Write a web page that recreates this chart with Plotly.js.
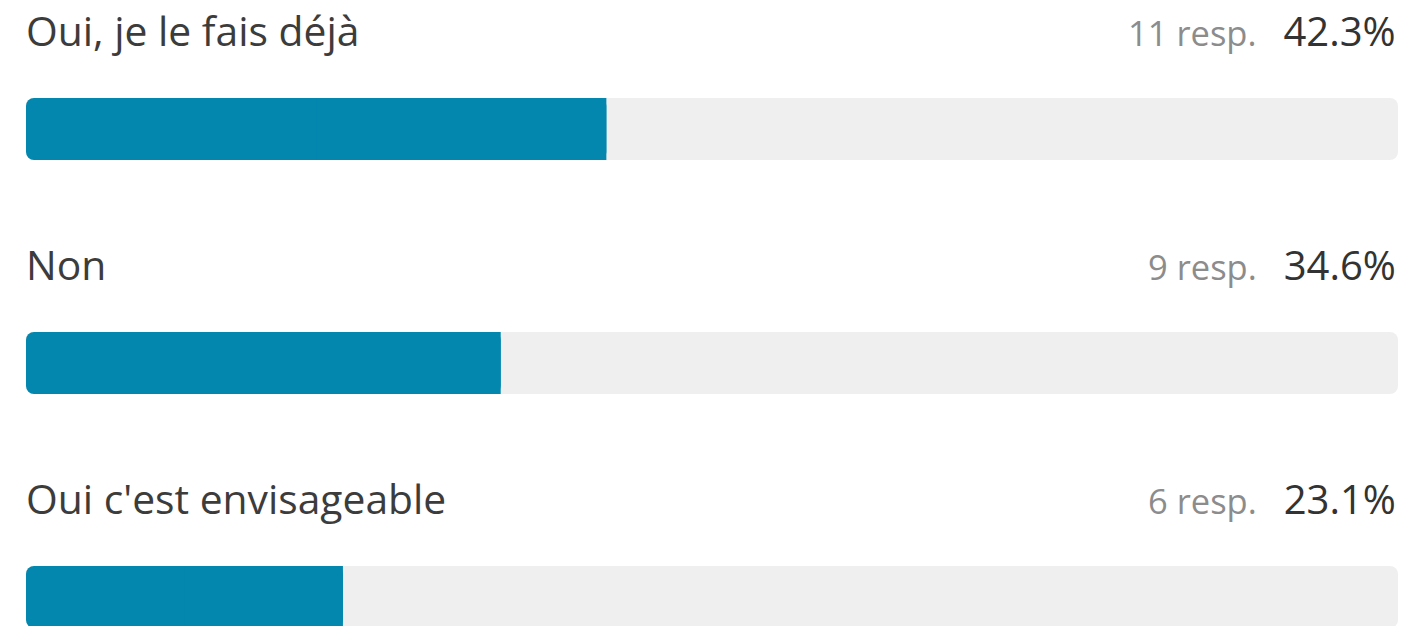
<!DOCTYPE html>
<html>
<head>
<meta charset="utf-8">
<script src="https://cdn.plot.ly/plotly-3.0.1.min.js"></script>
<style>
html,body{margin:0;padding:0;background:#fff;}
#chart{width:1404px;height:626px;}
</style>
</head>
<body>
<div id="chart"></div>
<script>
// Data
const categories = ["Oui, je le fais déjà", "Non", "Oui c'est envisageable"];
const responses = [11, 9, 6];
const percents = [42.3, 34.6, 23.1];
const scaleMax = 100;

const FILL = "#0387AF";
const TRACK = "#EFEFEF";
const FONT = "Open Sans, Noto Sans, sans-serif";

const ypos = categories.map((c, i) => i);
const PX = 234;               // pixels per category step
const barW = 62 / PX;

// full track, drawn from the max back to 0 (rounded at both ends)
const track = {
  type: "bar", orientation: "h",
  y: ypos, base: categories.map(() => scaleMax), x: categories.map(() => -scaleMax),
  width: barW,
  marker: {color: TRACK, cornerradius: 8, line: {width: 0}},
  hoverinfo: "skip"
};
// filled part drawn from its value back to 0
const fill = {
  type: "bar", orientation: "h",
  y: ypos, base: percents, x: percents.map(p => -p),
  width: barW,
  marker: {color: FILL, cornerradius: 8, line: {width: 0}},
  hoverinfo: "skip"
};
// square off the right end of the filled part
const fillSquare = {
  type: "bar", orientation: "h",
  y: ypos, base: percents.map(p => p / 2), x: percents.map(p => p / 2),
  width: barW,
  marker: {color: FILL, line: {width: 0}},
  hoverinfo: "skip"
};

const annotations = [];
categories.forEach((c, i) => {
  annotations.push({
    xref: "paper", yref: "y", x: 0, y: i, xanchor: "left", yanchor: "middle",
    yshift: 99, xshift: -2, showarrow: false, text: c,
    font: {family: FONT, size: 40.8, color: "#3c3c3c"}
  });
  annotations.push({
    xref: "paper", yref: "y", x: 1, y: i, xanchor: "right", yanchor: "middle",
    yshift: 99, xshift: 0, showarrow: false,
    text: '<span style="color:#8c8c8c;font-size:34.5px">' + responses[i] + ' resp.&nbsp;&nbsp;&nbsp;</span>' + percents[i].toFixed(1) + '%',
    font: {family: FONT, size: 40, color: "#333333"}
  });
});

const layout = {
  width: 1404, height: 626,
  margin: {l: 26, r: 6, t: 0, b: 0, pad: 0},
  paper_bgcolor: "#ffffff", plot_bgcolor: "#ffffff",
  barmode: "overlay",
  showlegend: false,
  xaxis: {range: [0, scaleMax], visible: false, fixedrange: true},
  yaxis: {range: [626 / PX - 129 / PX, -129 / PX], visible: false, fixedrange: true},
  annotations: annotations,
  hovermode: false
};

Plotly.newPlot("chart", [track, fill, fillSquare], layout, {displayModeBar: false, staticPlot: true});
</script>
</body>
</html>
